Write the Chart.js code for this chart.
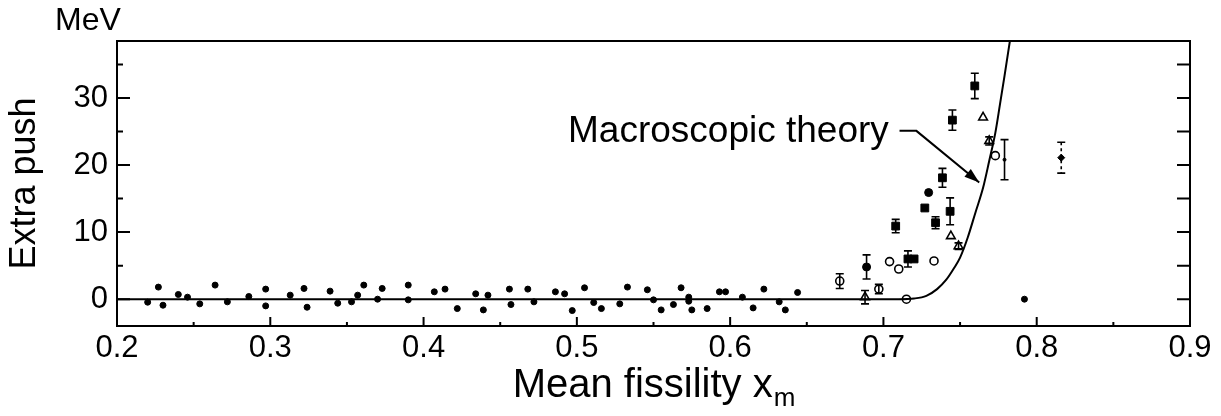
<!DOCTYPE html>
<html>
<head>
<meta charset="utf-8">
<script src="https://cdn.jsdelivr.net/npm/chart.js@4.4.1/dist/chart.umd.min.js"></script>
<style>
  html, body { margin: 0; padding: 0; background: #fff; }
  #wrap { width: 1221px; height: 416px; }
</style>
</head>
<body>
<div id="wrap"><canvas id="c" width="1221" height="416"></canvas></div>
<script>
// ---------- data ----------
const xTickValues = [0.2, 0.3, 0.4, 0.5, 0.6, 0.7, 0.8, 0.9];
const xMinorTicks = [0.25, 0.35, 0.45, 0.55, 0.65, 0.75, 0.85];
const yTickValues = [0, 10, 20, 30];
const yMinorTicks = [5, 15, 25, 35];

// small dots (data scattered around zero, plus the isolated dot near 0.79)
const dotsX = [0.220,0.227,0.230,0.240,0.246,0.254,0.264,0.272,0.286,0.297,0.297,0.313,0.322,0.324,0.339,0.344,0.353,0.357,0.361,0.370,0.373,0.390,0.390,0.407,
  0.414,0.422,0.434,0.439,0.442,0.456,0.457,0.468,0.472,0.486,0.492,0.497,0.505,0.511,0.516,0.528,0.533,0.546,0.550,0.555,0.563,0.568,0.573,0.573,0.575,0.585,0.593,0.597,
  0.608,0.615,0.622,0.632,0.636,0.644,0.792];
const dotsY = [-0.45,1.8,-0.9,0.7,0.3,-0.7,2.1,-0.4,0.4,1.5,-1.0,0.6,1.6,-1.2,1.2,-0.6,-0.4,0.6,2.1,0.0,1.6,2.1,-0.1,1.1,
  1.5,-1.4,0.8,-1.6,0.6,1.5,-0.8,1.5,-0.4,1.1,0.8,-1.7,1.7,-0.5,-1.4,-0.7,1.8,1.4,-0.1,-1.6,-0.8,1.7,0.3,-0.3,-1.6,-1.4,1.1,1.1,
  0.3,-1.3,1.5,-0.4,-1.6,1.0,0.0];

// filled squares with error bars
const squaresX = [0.708, 0.716, 0.720, 0.727, 0.734, 0.7385, 0.7435, 0.745, 0.7596];
const squaresY = [10.9, 6.0, 6.0, 13.6, 11.4, 18.1, 13.1, 26.7, 31.8];
const squaresErr = [1.0, 1.2, 0, 0, 0.9, 1.4, 2.0, 1.5, 1.9];

// filled circles
const filledX = [0.689, 0.7295];
const filledY = [4.8, 15.9];
const filledErr = [1.8, 0];

// open circles
const openX = [0.6715, 0.697, 0.704, 0.710, 0.715, 0.733, 0.773];
const openY = [2.7, 1.5, 5.6, 4.5, 0.0, 5.7, 21.4];
const openErr = [1.1, 0.7, 0, 0, 0, 0, 0];

// open triangles
const triX = [0.688, 0.744, 0.749, 0.765, 0.769];
const triY = [0.3, 9.4, 7.9, 27.1, 23.6];
const triErr = [1.0, 0, 0.5, 0, 0.6];

// error bar without marker / diamond
const barX = [0.779];
const barY = [20.8];
const barErr = [3.0];
const diamondX = [0.816];
const diamondY = [21.1];
const diamondErr = [2.3];

// macroscopic theory curve
const theoryX = [0.2, 0.71, 0.72, 0.728, 0.735, 0.741, 0.746, 0.75, 0.755, 0.76, 0.765, 0.769, 0.773, 0.776, 0.779, 0.7825];
const theoryY = [0, 0, 0.1, 0.5, 1.5, 2.9, 4.6, 6.2, 9.2, 12.9, 16.6, 20.6, 24.8, 29.0, 33.3, 38.5];

// ---------- helpers ----------
const pts = (xs, ys) => xs.map((x, i) => ({ x: x, y: ys[i] }));
const FONT = "'Liberation Sans', Arial, Helvetica, sans-serif";

const annotation = { text: 'Macroscopic theory', textEndX: 0.7035, lineY: 25.1, lineStartX: 0.7105, cornerX: 0.7215, tipX: 0.7625, tipY: 17.4 };

const framePlugin = {
  id: 'frame',
  afterDatasetsDraw(chart) {
    const ctx = chart.ctx, a = chart.chartArea;
    const xs = chart.scales.x, ys = chart.scales.y;
    ctx.save();
    // error bars
    chart.data.datasets.forEach((ds, di) => {
      if (!ds.errors) return;
      ctx.strokeStyle = '#000';
      ctx.lineWidth = 1.6;
      ds.data.forEach((p, i) => {
        const e = ds.errors[i];
        if (!e) return;
        const px = xs.getPixelForValue(p.x);
        const top = ys.getPixelForValue(p.y + e);
        const bot = ys.getPixelForValue(p.y - e);
        ctx.setLineDash(ds.dashedErr ? [3, 3] : []);
        ctx.beginPath(); ctx.moveTo(px, top); ctx.lineTo(px, bot); ctx.stroke();
        ctx.setLineDash([]);
        ctx.beginPath();
        ctx.moveTo(px - 4, top); ctx.lineTo(px + 4, top);
        ctx.moveTo(px - 4, bot); ctx.lineTo(px + 4, bot);
        ctx.stroke();
      });
    });
    // frame
    ctx.strokeStyle = '#000';
    ctx.lineWidth = 2;
    ctx.strokeRect(a.left, a.top, a.right - a.left, a.bottom - a.top);
    // inward ticks
    ctx.beginPath();
    xTickValues.forEach(v => { const p = xs.getPixelForValue(v); ctx.moveTo(p, a.bottom); ctx.lineTo(p, a.bottom - 9); });
    xMinorTicks.forEach(v => { const p = xs.getPixelForValue(v); ctx.moveTo(p, a.bottom); ctx.lineTo(p, a.bottom - 4); });
    yTickValues.forEach(v => { const p = ys.getPixelForValue(v); ctx.moveTo(a.left, p); ctx.lineTo(a.left + 13, p); });
    yMinorTicks.forEach(v => { const p = ys.getPixelForValue(v); ctx.moveTo(a.left, p); ctx.lineTo(a.left + 6, p); });
    yTickValues.concat(yMinorTicks).forEach(v => { const p = ys.getPixelForValue(v); ctx.moveTo(a.right, p); ctx.lineTo(a.right - 13, p); });
    ctx.stroke();

    // annotation
    ctx.fillStyle = '#000';
    ctx.font = '37px ' + FONT;
    ctx.textAlign = 'right';
    ctx.textBaseline = 'alphabetic';
    const ly = ys.getPixelForValue(annotation.lineY);
    ctx.fillText(annotation.text, xs.getPixelForValue(annotation.textEndX), ly + 11);
    const x0 = xs.getPixelForValue(annotation.lineStartX), x1 = xs.getPixelForValue(annotation.cornerX);
    const tx = xs.getPixelForValue(annotation.tipX), ty = ys.getPixelForValue(annotation.tipY);
    ctx.lineWidth = 2;
    ctx.beginPath(); ctx.moveTo(x0, ly); ctx.lineTo(x1, ly); ctx.lineTo(tx, ty); ctx.stroke();
    const ang = Math.atan2(ty - ly, tx - x1);
    ctx.beginPath();
    ctx.moveTo(tx, ty);
    ctx.lineTo(tx - 15 * Math.cos(ang) + 5 * Math.sin(ang), ty - 15 * Math.sin(ang) - 5 * Math.cos(ang));
    ctx.lineTo(tx - 15 * Math.cos(ang) - 5 * Math.sin(ang), ty - 15 * Math.sin(ang) + 5 * Math.cos(ang));
    ctx.closePath(); ctx.fill();

    // unit label and x title
    ctx.textAlign = 'left';
    ctx.font = '32px ' + FONT;
    ctx.fillText('MeV', 55, 30);
    const main = 'Mean fissility x';
    ctx.font = '40px ' + FONT;
    const w1 = ctx.measureText(main).width;
    ctx.font = '26px ' + FONT;
    const w2 = ctx.measureText('m').width;
    const cx = (a.left + a.right) / 2;
    const start = cx - (w1 + w2) / 2;
    ctx.font = '40px ' + FONT;
    ctx.fillText(main, start, 397);
    ctx.font = '26px ' + FONT;
    ctx.fillText('m', start + w1 + 1, 406);
    ctx.restore();
  }
};

const base = { showLine: false, borderColor: '#000', backgroundColor: '#000' };

new Chart(document.getElementById('c'), {
  type: 'scatter',
  data: {
    datasets: [
      { label: 'Macroscopic theory', type: 'line', data: pts(theoryX, theoryY), showLine: true, borderColor: '#000', borderWidth: 2,
        pointRadius: 0, fill: false, cubicInterpolationMode: 'monotone' },
      Object.assign({}, base, { label: 'dots', data: pts(dotsX, dotsY), pointRadius: 3, pointStyle: 'circle' }),
      Object.assign({}, base, { label: 'squares', data: pts(squaresX, squaresY), errors: squaresErr, pointRadius: 5.5, pointStyle: 'rect' }),
      Object.assign({}, base, { label: 'filled', data: pts(filledX, filledY), errors: filledErr, pointRadius: 4, pointStyle: 'circle' }),
      Object.assign({}, base, { label: 'open', data: pts(openX, openY), errors: openErr, pointRadius: 4, pointStyle: 'circle', backgroundColor: '#fff', borderWidth: 1.6 }),
      Object.assign({}, base, { label: 'triangles', data: pts(triX, triY), errors: triErr, pointRadius: 5, pointStyle: 'triangle', backgroundColor: '#fff', borderWidth: 1.6 }),
      Object.assign({}, base, { label: 'bar', data: pts(barX, barY), errors: barErr, pointRadius: 1.5, pointStyle: 'circle' }),
      Object.assign({}, base, { label: 'diamond', data: pts(diamondX, diamondY), errors: diamondErr, dashedErr: true, pointRadius: 3.5, pointStyle: 'rectRot' })
    ]
  },
  options: {
    responsive: false,
    animation: false,
    layout: { padding: { top: 41, right: 31, left: 0, bottom: 0 } },
    plugins: { legend: { display: false }, tooltip: { enabled: false } },
    scales: {
      x: {
        type: 'linear', min: 0.2, max: 0.9,
        afterBuildTicks: s => { s.ticks = xTickValues.map(v => ({ value: v })); },
        afterFit: s => { s.height = 90; },
        grid: { display: false, drawTicks: false },
        border: { display: false },
        ticks: { color: '#000', font: { size: 31, family: FONT }, padding: 4, maxRotation: 0, autoSkip: false,
                 callback: v => Number(v).toFixed(1) }
      },
      y: {
        type: 'linear', min: -4, max: 38.5,
        afterBuildTicks: s => { s.ticks = yTickValues.map(v => ({ value: v })); },
        afterFit: s => { s.width = 117; },
        grid: { display: false, drawTicks: false },
        border: { display: false },
        ticks: { color: '#000', font: { size: 31, family: FONT }, padding: 9, callback: v => String(v) },
        title: { display: true, text: 'Extra push', color: '#000', font: { size: 36, family: FONT }, padding: { top: 3, bottom: 0 } }
      }
    }
  },
  plugins: [framePlugin]
});
</script>
</body>
</html>
